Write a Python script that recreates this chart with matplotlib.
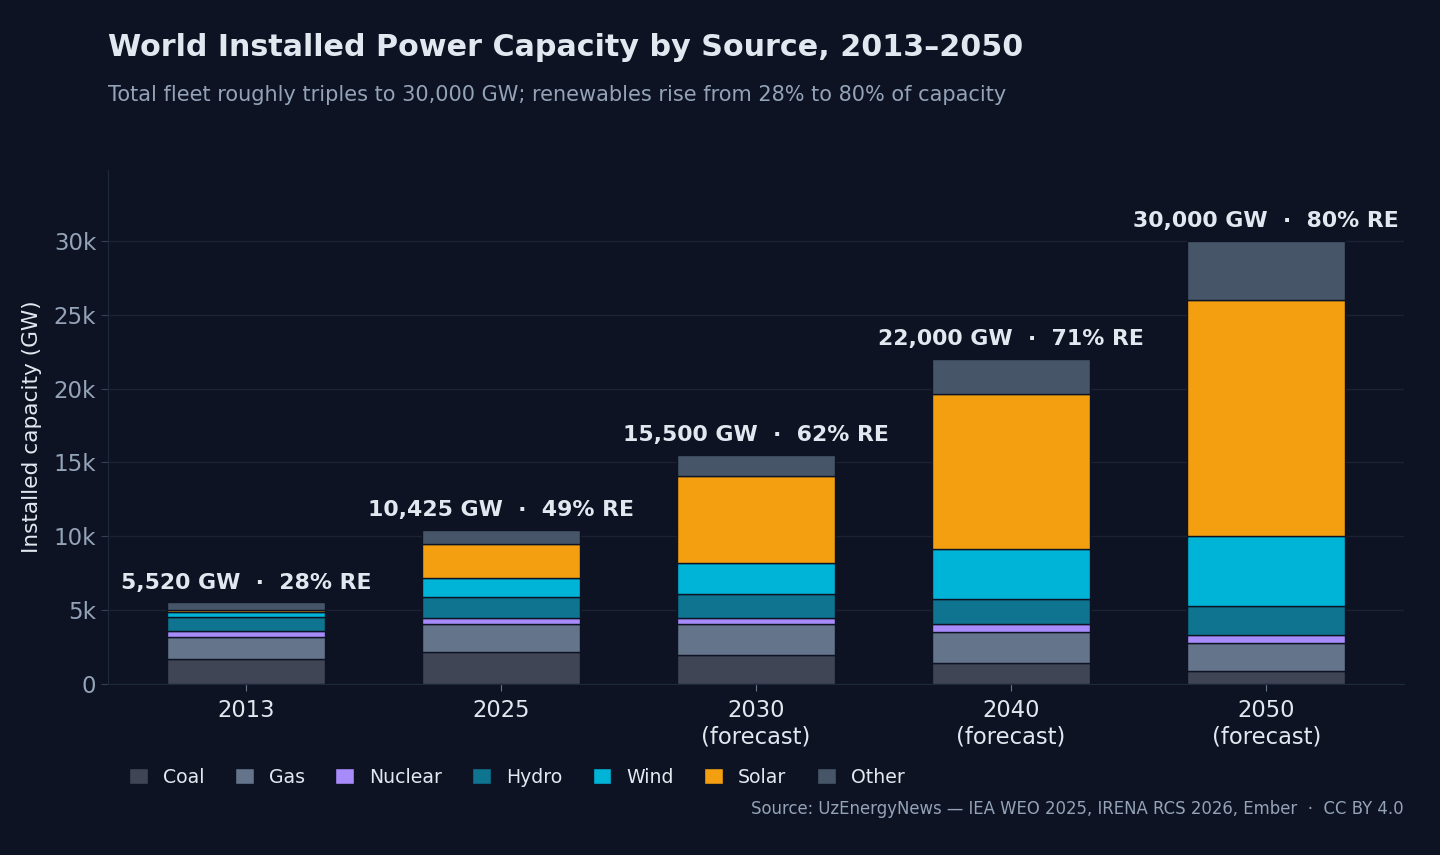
import matplotlib
matplotlib.use("Agg")
import matplotlib.pyplot as plt
import numpy as np

years = ["2013", "2025", "2030\n(forecast)", "2040\n(forecast)", "2050\n(forecast)"]
sources = ["Coal", "Gas", "Nuclear", "Hydro", "Wind", "Solar", "Other"]
coal = [1700, 2150, 1950, 1450, 850]
gas = [1450, 1880, 2080, 2050, 1900]
nuclear = [420, 410, 450, 550, 600]
hydro = [1000, 1420, 1600, 1700, 1900]
wind = [320, 1290, 2100, 3400, 4750]
solar = [140, 2300, 5900, 10500, 16000]
other = [490, 975, 1420, 2350, 4000]
totals = [5520, 10425, 15500, 22000, 30000]
re_share = [28, 49, 62, 71, 80]

colors = ["#3f4555", "#64748b", "#a78bfa", "#0e7490", "#00b4d8", "#f39f0f", "#475569"]
BG = "#0d1322"

series = [coal, gas, nuclear, hydro, wind, solar, other]

fig = plt.figure(figsize=(14.4, 8.55), dpi=100, facecolor=BG)
ax = fig.add_axes([108/1440, 1 - 684/855, (1404-108)/1440, (684-170)/855])
ax.set_facecolor(BG)

x = np.arange(len(years))
bottom = np.zeros(len(years))
for name, vals, c in zip(sources, series, colors):
    ax.bar(x, vals, bottom=bottom, width=0.62, color=c, edgecolor=BG, linewidth=1.0, label=name, zorder=3)
    bottom += np.array(vals)

for xi, tot, re in zip(x, totals, re_share):
    ax.annotate(f"{tot:,} GW  ·  {re}% RE", (xi, bottom[xi]), xytext=(0, 7), textcoords="offset points",
                ha="center", va="bottom", fontsize=15.8, fontweight="bold", color="#e2e8f0", zorder=4)

ax.set_xlim(-0.54, 4.54)
ax.set_ylim(0, 34800)
ax.set_yticks([0, 5000, 10000, 15000, 20000, 25000, 30000])
ax.set_yticklabels(["0", "5k", "10k", "15k", "20k", "25k", "30k"])
ax.set_xticks(x)
ax.set_xticklabels(years)
ax.tick_params(axis="y", colors="#334155", labelcolor="#94a3b8", labelsize=16.5, length=5)
ax.tick_params(axis="x", colors="#64748b", labelcolor="#e2e8f0", labelsize=16.3, length=5, pad=6)
ax.grid(axis="y", color="#1a2233", linewidth=1, zorder=0)
for s in ["top", "right"]:
    ax.spines[s].set_visible(False)
for s in ["left", "bottom"]:
    ax.spines[s].set_color("#1e293b")
ax.set_ylabel("Installed capacity (GW)", fontsize=15.6, color="#e2e8f0", labelpad=8)

fig.text(108/1440, 1 - 47/855, "World Installed Power Capacity by Source, 2013–2050", fontsize=21.7,
         fontweight="bold", color="#e2e8f0", va="center", ha="left")
fig.text(108/1440, 1 - 95/855, "Total fleet roughly triples to 30,000 GW; renewables rise from 28% to 80% of capacity",
         fontsize=15, color="#94a3b8", va="center", ha="left")

leg = fig.legend(loc="center left", bbox_to_anchor=(112/1440, 1 - 777/855), ncol=7, frameon=False,
                 fontsize=13.6, labelcolor="#e2e8f0", handlelength=1.0, handleheight=1.0,
                 columnspacing=1.6, handletextpad=0.8)

fig.text(1404/1440, 1 - 809/855, "Source: UzEnergyNews — IEA WEO 2025, IRENA RCS 2026, Ember  ·  CC BY 4.0",
         fontsize=11.9, color="#94a3b8", ha="right", va="center")

fig.savefig("out.png", dpi=100, facecolor=BG)
